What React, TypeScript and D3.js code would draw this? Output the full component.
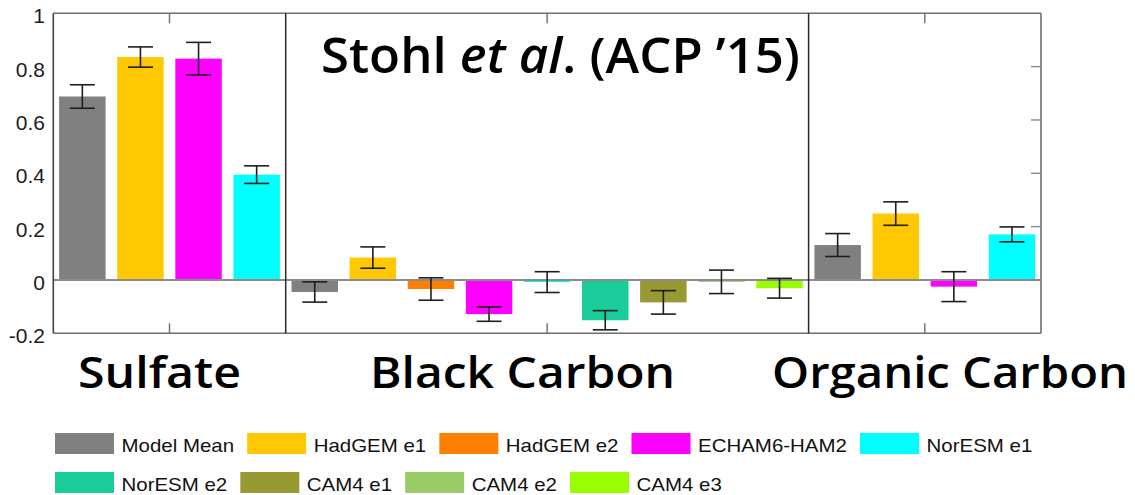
import React from "react";
import * as d3 from "d3";

// Aerosol groups shown as three panels
const groups = ["Sulfate", "Black Carbon", "Organic Carbon"];

// Model runs and their fill colours (legend order)
const models = [
  "Model Mean",
  "HadGEM e1",
  "HadGEM e2",
  "ECHAM6-HAM2",
  "NorESM e1",
  "NorESM e2",
  "CAM4 e1",
  "CAM4 e2",
  "CAM4 e3",
];
const modelColors = [
  "#808080",
  "#ffc800",
  "#ff7f00",
  "#ff00ff",
  "#00ffff",
  "#1acc99",
  "#999933",
  "#99cc66",
  "#99ff00",
];

// Sulfate
const sulfateModels = ["Model Mean", "HadGEM e1", "ECHAM6-HAM2", "NorESM e1"];
const sulfateValues = [0.688, 0.836, 0.83, 0.395];
const sulfateErrors = [0.044, 0.038, 0.061, 0.033];

// Black carbon
const bcModels = models;
const bcValues = [-0.045, 0.084, -0.034, -0.128, -0.008, -0.151, -0.084, -0.007, -0.031];
const bcErrors = [0.038, 0.04, 0.042, 0.027, 0.039, 0.036, 0.044, 0.044, 0.037];

// Organic carbon
const ocModels = ["Model Mean", "HadGEM e1", "ECHAM6-HAM2", "NorESM e1"];
const ocValues = [0.131, 0.249, -0.025, 0.171];
const ocErrors = [0.043, 0.044, 0.056, 0.028];

const yTicks = [-0.2, 0, 0.2, 0.4, 0.6, 0.8, 1];
const yTickLabels = ["-0.2", "0", "0.2", "0.4", "0.6", "0.8", "1"];

const W = 1135;
const H = 495;
const plot = { left: 53.3, right: 1041, top: 13.3, bottom: 333.3 };

const HEAD = "'Open Sans', 'Noto Sans CJK JP', sans-serif";
const SANS = "'Liberation Sans', Arial, sans-serif";

type Bar = { key: string; group: number; model: string; value: number; err: number };

const bars: Bar[] = [];
[
  [sulfateModels, sulfateValues, sulfateErrors],
  [bcModels, bcValues, bcErrors],
  [ocModels, ocValues, ocErrors],
].forEach(([ms, vs, es], g) => {
  (ms as string[]).forEach((m, i) => {
    bars.push({ key: `${g}-${i}`, group: g, model: m, value: (vs as number[])[i], err: (es as number[])[i] });
  });
});

const x = d3
  .scaleBand<string>()
  .domain(bars.map((b) => b.key))
  .range([plot.left, plot.right])
  .paddingInner(0.2)
  .paddingOuter(0.1);

const y = d3.scaleLinear().domain([-0.2, 1]).range([plot.bottom, plot.top]);

const color = d3.scaleOrdinal<string, string>().domain(models).range(modelColors);

// Group extents along x
const step = x.step();
const groupExtents = groups.map((_, g) => {
  const keys = bars.filter((b) => b.group === g).map((b) => b.key);
  const first = x(keys[0])! - (step * 0.2) / 2;
  const last = x(keys[keys.length - 1])! + x.bandwidth() + (step * 0.2) / 2;
  return [first, last];
});

// Legend text measurement for a flowing layout
const LEGEND_FONT_SIZE = 17.5;
const LEGEND_STRETCH = 1.17;
function measure(text: string): number {
  const c = document.createElement("canvas").getContext("2d")!;
  c.font = `${LEGEND_FONT_SIZE}px "Liberation Sans", Arial, sans-serif`;
  return c.measureText(text).width * LEGEND_STRETCH;
}
const legendRows = [models.slice(0, 5), models.slice(5)];
const swatchW = 59;
const swatchH = 21;
const legendTop = [433, 472];
const legendItems = legendRows.flatMap((row, r) => {
  let cx = 55;
  return row.map((m) => {
    const item = { model: m, x: cx, y: legendTop[r] };
    cx += swatchW + 7.5 + measure(m) + 13;
    return item;
  });
});

export default function App() {
  const capW = 25;
  return (
    <svg width={W} height={H} style={{ display: "block", position: "absolute", left: 0, top: 0, background: "#fff" }}>
      <rect x={0} y={0} width={W} height={H} fill="#fff" />

      {/* bars */}
      {bars.map((b) => (
        <rect
          key={b.key}
          x={x(b.key)}
          width={x.bandwidth()}
          y={y(Math.max(0, b.value))}
          height={Math.abs(y(b.value) - y(0))}
          fill={color(b.model)}
        />
      ))}

      {/* zero line */}
      <line x1={plot.left} x2={plot.right} y1={y(0)} y2={y(0)} stroke="#8c8c8c" strokeWidth={2} />

      {/* error bars */}
      {bars.map((b) => {
        const cx = x(b.key)! + x.bandwidth() / 2;
        const y1 = y(b.value + b.err);
        const y2 = y(b.value - b.err);
        return (
          <g key={`e-${b.key}`} stroke="#1e1e1e" strokeWidth={1.6}>
            <line x1={cx} x2={cx} y1={y1} y2={y2} />
            <line x1={cx - capW / 2} x2={cx + capW / 2} y1={y1} y2={y1} />
            <line x1={cx - capW / 2} x2={cx + capW / 2} y1={y2} y2={y2} />
          </g>
        );
      })}

      {/* frame */}
      <line x1={plot.left} x2={plot.right} y1={plot.top} y2={plot.top} stroke="#6e6e6e" strokeWidth={1.6} />
      <line x1={plot.left} x2={plot.right} y1={plot.bottom} y2={plot.bottom} stroke="#6e6e6e" strokeWidth={1.6} />
      <line x1={plot.left} x2={plot.left} y1={plot.top} y2={plot.bottom} stroke="#444" strokeWidth={1.6} />
      <line x1={plot.right} x2={plot.right} y1={plot.top} y2={plot.bottom} stroke="#6e6e6e" strokeWidth={1.6} />

      {/* panel dividers */}
      {groupExtents.slice(1).map(([x0], i) => (
        <line key={`d${i}`} x1={x0} x2={x0} y1={plot.top} y2={plot.bottom} stroke="#2a2a2a" strokeWidth={1.5} />
      ))}

      {/* panel ticks top/bottom */}
      {groupExtents.map(([a, b], i) => {
        const cx = (a + b) / 2;
        return (
          <g key={`t${i}`} stroke="#777" strokeWidth={1.5}>
            <line x1={cx} x2={cx} y1={plot.top} y2={plot.top + 10} />
            <line x1={cx} x2={cx} y1={plot.bottom} y2={plot.bottom - 10} />
          </g>
        );
      })}

      {/* right-side inward ticks */}
      {yTicks.slice(1, -1).map((t) => (
        <line key={`r${t}`} x1={plot.right} x2={plot.right - 10} y1={y(t)} y2={y(t)} stroke="#888" strokeWidth={1.4} />
      ))}

      {/* y tick labels */}
      {yTicks.map((t, i) => (
        <text
          key={`yl${t}`}
          x={45}
          y={y(t) + 10}
          textAnchor="end"
          fontFamily={SANS}
          fontSize={21}
          fill="#1c1c24"
        >
          {yTickLabels[i]}
        </text>
      ))}

      {/* title */}
      <text
        x={321}
        y={73}
        fontFamily={HEAD}
        fontWeight={600}
        fontSize={48}
        fill="#000"
        textLength={479}
        lengthAdjust="spacingAndGlyphs"
      >
        Stohl <tspan fontStyle="italic">et al</tspan>. (ACP ’15)
      </text>

      {/* group labels */}
      {groups.map((g, i) => {
        const starts = [78, 370, 772];
        const widths = [163, 305, 356];
        return (
          <text
            key={g}
            x={starts[i]}
            y={388}
            fontFamily={HEAD}
            fontWeight={600}
            fontSize={43}
            fill="#000"
            textLength={widths[i]}
            lengthAdjust="spacingAndGlyphs"
          >
            {g}
          </text>
        );
      })}

      {/* legend */}
      {legendItems.map((it) => (
        <g key={`lg-${it.model}`}>
          <rect x={it.x} y={it.y} width={swatchW} height={swatchH} fill={color(it.model)} />
          <text
            transform={`translate(${it.x + swatchW + 7.5}, ${it.y + 18.5}) scale(${LEGEND_STRETCH}, 1)`}
            fontFamily={SANS}
            fontSize={LEGEND_FONT_SIZE}
            fill="#111"
          >
            {it.model}
          </text>
        </g>
      ))}
    </svg>
  );
}
